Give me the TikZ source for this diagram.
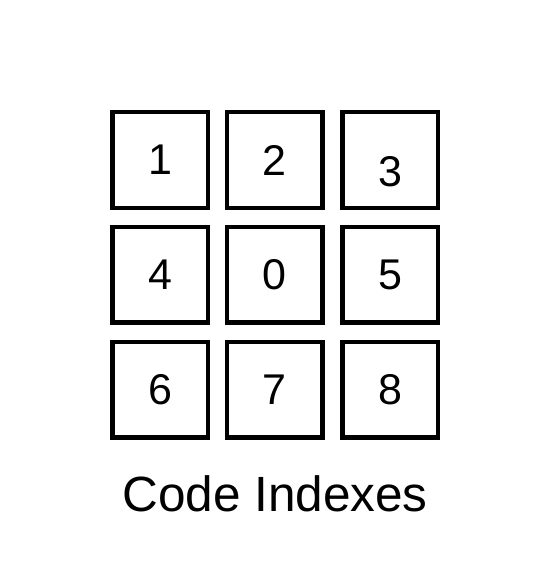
\documentclass[tikz,border=0pt]{standalone}
\usepackage{fontspec}
\setmainfont{Liberation Sans}
\begin{document}
\begin{tikzpicture}[x=1pt,y=-1pt,
  cell/.style={draw=black,line width=4.5pt,minimum size=95.5pt,inner sep=0pt,
    font=\fontsize{43}{43}\selectfont},
  caption/.style={font=\fontsize{49.5}{50}\selectfont,inner sep=0pt}]
\useasboundingbox (0,0) rectangle (550,585);
\node[cell] (c1) at (160,160) {1};
\node[cell] (c2) at (274.5,160) {2};
\node[cell] (c3) at (390,160) {};
\node (t3) at (390,172) {\fontsize{43}{43}\selectfont 3};
\node[cell] (c4) at (160,274.5) {4};
\node[cell] (c0) at (274.5,274.5) {0};
\node[cell] (c5) at (390,274.5) {5};
\node[cell] (c6) at (160,389.5) {6};
\node[cell] (c7) at (274.5,389.5) {7};
\node[cell] (c8) at (390,389.5) {8};
\node[caption] (cap) at (275,494) {Code Indexes};
\end{tikzpicture}
\end{document}
